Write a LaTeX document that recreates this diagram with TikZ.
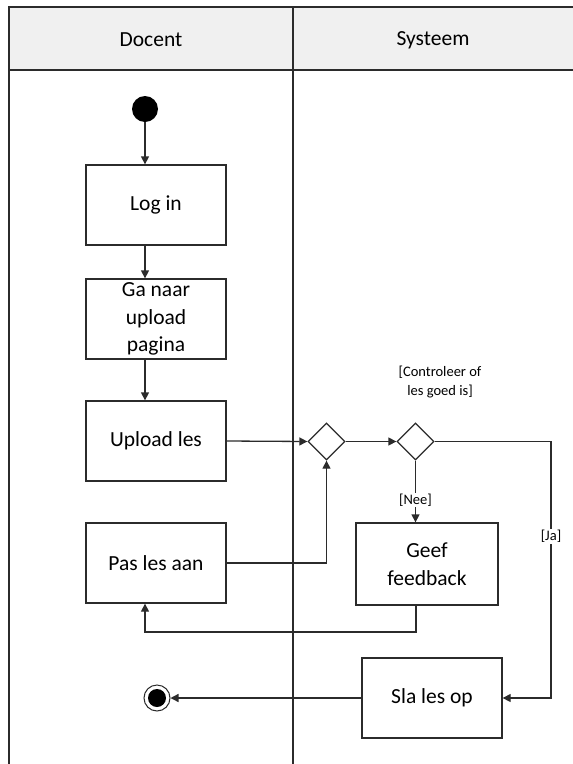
\documentclass[tikz,border=0pt]{standalone}
\usepackage{fontspec}
\setmainfont{Carlito}
\usetikzlibrary{shapes.geometric,arrows.meta}
\definecolor{ln}{HTML}{2B2B2B}
\definecolor{hdr}{HTML}{F0F0F0}
\tikzset{
  act/.style={draw=ln, line width=1.3pt, rectangle, minimum width=140pt, minimum height=80pt, inner sep=2pt, align=center, font=\fontsize{21.5}{27.5}\selectfont},
  dec/.style={draw=ln, line width=1.3pt, diamond, minimum width=37pt, minimum height=37pt, inner sep=0pt},
  flow/.style={draw=ln, line width=1.3pt, -{Triangle[length=8pt,width=8pt]}},
  lbl/.style={font=\fontsize{14.5}{19}\selectfont, align=center, fill=white, inner sep=1pt},
  lane/.style={draw=ln, line width=1.3pt},
}
\begin{document}
\begin{tikzpicture}[x=1pt,y=-1pt]
\useasboundingbox (0,0) rectangle (573,764);
% swimlanes
\fill[hdr] (9,7) rectangle (573,70);
\draw[lane] (9,764) -- (9,7) -- (573,7);
\draw[lane] (9,70) -- (573,70);
\draw[lane] (293,7) -- (293,764);
\node[font=\fontsize{21.5}{26}\selectfont] (h1) at (151,40) {Docent};
\node[font=\fontsize{21.5}{26}\selectfont] (h2) at (433,40) {Systeem};
% nodes
\node[circle, fill=black, minimum size=26pt, inner sep=0pt] (start) at (145,109) {};
\node[act] (login) at (156,205) {Log in};
\node[act] (ganaar) at (156,319) {Ga naar\\upload\\pagina};
\node[act] (upload) at (156,441) {Upload les};
\node[act] (pas) at (156,563) {Pas les aan};
\node[dec] (d1) at (326.5,441.5) {};
\node[dec] (d2) at (415.5,441.5) {};
\node[act, minimum width=142pt, minimum height=82pt] (geef) at (427,564) {Geef\\feedback};
\node[act] (sla) at (432,698) {Sla les op};
\node[circle, draw=ln, line width=1pt, minimum size=26pt, inner sep=0pt, fill=white] (end) at (157,698) {};
\node[circle, fill=black, minimum size=18pt, inner sep=0pt] (endin) at (end.center) {};
\coordinate (jacorner) at (551,441.5);
\coordinate (fbcorner) at (416,632);
% labels
\node[lbl] (ctl) at (440,382) {[Controleer of\\les goed is]};
% connectors
\draw[flow] (start) -- (start |- login.north);
\draw[flow] (start |- login.south) -- (start |- ganaar.north);
\draw[flow] (start |- ganaar.south) -- (start |- upload.north);
\draw[flow] (upload.east) -- (d1.west);
\draw[flow] (d1.east) -- (d2.west);
\draw[flow] (pas.east) -| (d1.south);
\draw[flow] (d2.south) -- node[lbl, pos=0.64] (nee) {[Nee]} (d2.south |- geef.north);
\draw[flow] (d2.east) -- (jacorner) -- node[lbl, pos=0.37] (ja) {[Ja]} (jacorner |- sla.east) -- (sla.east);
\draw[flow] (geef.south -| fbcorner) -- (fbcorner) -| (start |- pas.south);
\draw[flow] (sla.west) -- (end.east);
\end{tikzpicture}
\end{document}
